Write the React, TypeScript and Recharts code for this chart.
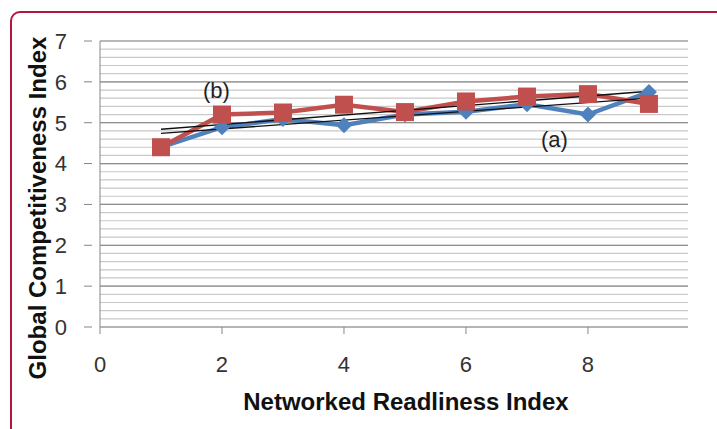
import React from 'react';
import { LineChart, Line, XAxis, YAxis, CartesianGrid, ReferenceLine } from 'recharts';

// Networked readiness index (x) vs global competitiveness index (y)
const xValues = [1, 2, 3, 4, 5, 6, 7, 8, 9];
const seriesA = [4.4, 4.89, 5.09, 4.94, 5.2, 5.27, 5.45, 5.2, 5.75];
const seriesB = [4.4, 5.2, 5.25, 5.44, 5.26, 5.52, 5.64, 5.7, 5.46];

// linear trend lines, endpoints
const trendX = [1, 9];
const trendA = [4.74, 5.6];
const trendB = [4.84, 5.77];

const xTicks = [0, 2, 4, 6, 8];
const majorTicks = [0, 1, 2, 3, 4, 5, 6, 7];
const minorTicks = Array.from({ length: 36 }, (_, i) => Math.round(i * 2) / 10);

const BLUE = '#4F81BD';
const RED = '#C0504D';
const AXIS = '#868686';
const FONT = "'Liberation Sans Narrow', 'Liberation Sans', Arial, sans-serif";

const data = xValues.map((x, i) => {
  const ti = trendX.indexOf(x);
  return {
    x,
    a: seriesA[i],
    b: seriesB[i],
    ta: ti >= 0 ? trendA[ti] : null,
    tb: ti >= 0 ? trendB[ti] : null,
  };
});

const YTick = (props: any) => {
  const { x, y, payload } = props;
  const v = payload.value;
  const isMajor = Math.abs(v - Math.round(v)) < 1e-6;
  if (!isMajor) return null;
  return (
    <g>
      <line x1={x - 8} x2={x} y1={y} y2={y} stroke={AXIS} strokeWidth={1} />
      <text x={x - 25} y={y} dy="0.36em" textAnchor="end" fontSize={22} fontFamily={FONT} fill="#333">
        {Math.round(v)}
      </text>
    </g>
  );
};

const Diamond = (props: any) => {
  const { cx, cy } = props;
  if (cx == null || cy == null) return null;
  const r = 8;
  return (
    <path d={`M${cx},${cy - r}L${cx + r},${cy}L${cx},${cy + r}L${cx - r},${cy}Z`} fill={BLUE} />
  );
};

const Square = (props: any) => {
  const { cx, cy } = props;
  if (cx == null || cy == null) return null;
  const s = 18;
  return <rect x={cx - s / 2} y={cy - s / 2} width={s} height={s} fill={RED} />;
};

const App = () => {
  return (
    <div style={{ position: 'absolute', left: 0, top: 0, width: 717, height: 429, overflow: 'hidden', background: '#fff', fontFamily: FONT }}>
      <div
        style={{
          position: 'absolute',
          left: 10,
          top: 11,
          width: 720,
          height: 440,
          border: '2px solid #B3173F',
          borderRadius: 10,
          boxSizing: 'border-box',
        }}
      />
      <LineChart width={717} height={429} data={data} margin={{ top: 41, right: 29, bottom: 0, left: 0 }}>
        <CartesianGrid vertical={false} stroke="#c9c9c9" strokeWidth={1.2} />
        {majorTicks.slice(1).map((t) => (
          <ReferenceLine key={t} y={t} stroke="#8e8e8e" strokeWidth={1.2} />
        ))}
        <XAxis
          dataKey="x"
          type="number"
          domain={[0, 9.64]}
          ticks={xTicks}
          allowDataOverflow
          height={102}
          tickSize={7}
          tickMargin={22}
          axisLine={{ stroke: AXIS }}
          tickLine={{ stroke: AXIS }}
          tick={{ fontSize: 22, fontFamily: FONT, fill: '#333' }}
        />
        <YAxis
          type="number"
          domain={[0, 7]}
          ticks={minorTicks}
          interval={0}
          width={100}
          axisLine={{ stroke: AXIS }}
          tickLine={false}
          tick={<YTick />}
        />
        <Line dataKey="a" stroke={BLUE} strokeWidth={4.5} dot={<Diamond />} activeDot={false} isAnimationActive={false} />
        <Line dataKey="b" stroke={RED} strokeWidth={4.5} dot={<Square />} activeDot={false} isAnimationActive={false} />
        <Line dataKey="ta" stroke="#111" strokeWidth={1.3} dot={false} connectNulls activeDot={false} isAnimationActive={false} />
        <Line dataKey="tb" stroke="#111" strokeWidth={1.3} dot={false} connectNulls activeDot={false} isAnimationActive={false} />
      </LineChart>
      <div style={{ position: 'absolute', left: 203, top: 78, fontSize: 22, color: '#222' }}>(b)</div>
      <div style={{ position: 'absolute', left: 541, top: 127, fontSize: 22, color: '#222' }}>(a)</div>
      <div
        style={{
          position: 'absolute',
          left: 406,
          top: 402,
          transform: 'translate(-50%, -50%)',
          fontSize: 24,
          fontWeight: 'bold',
          whiteSpace: 'nowrap',
          color: '#111',
        }}
      >
        Networked Readliness Index
      </div>
      <div
        style={{
          position: 'absolute',
          left: 38,
          top: 208,
          transform: 'translate(-50%, -50%) rotate(-90deg)',
          fontSize: 24,
          fontWeight: 'bold',
          whiteSpace: 'nowrap',
          color: '#111',
        }}
      >
        Global Competitiveness Index
      </div>
    </div>
  );
};

export default App;
